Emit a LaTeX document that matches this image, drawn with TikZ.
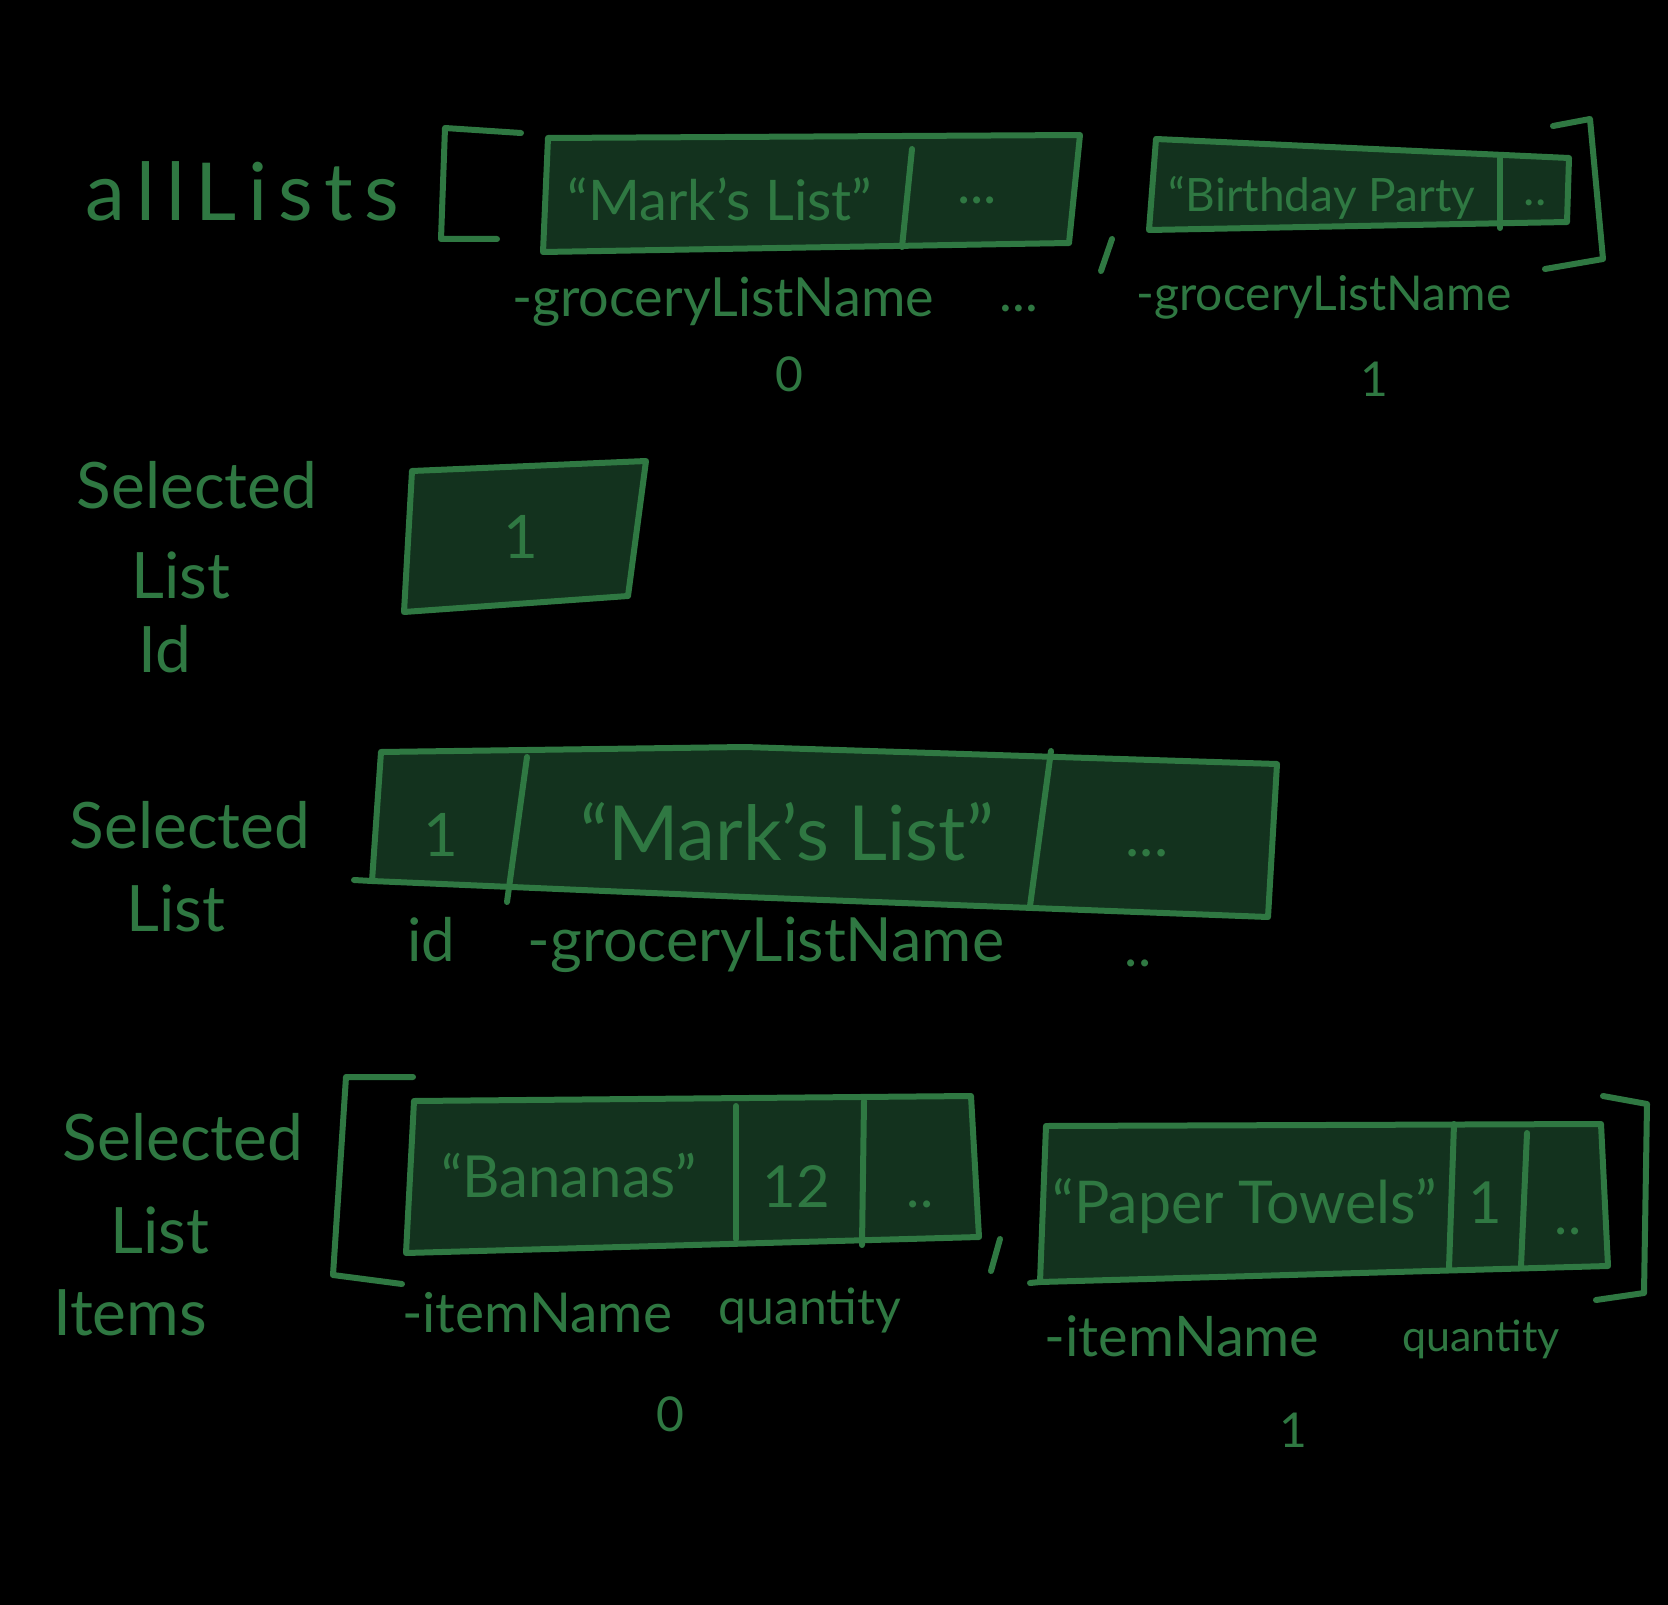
\documentclass[tikz,border=0pt]{standalone}
\usepackage{fontspec}
\setmainfont{Lato}
\definecolor{chalk}{RGB}{47,120,66}
\definecolor{slate}{RGB}{19,50,30}

\begin{document}
\begin{tikzpicture}[x=1pt,y=-1pt,
    pen/.style={draw=chalk, line width=6pt, line cap=round, line join=round},
    cellbox/.style={pen, fill=slate},
    hand/.style={text=chalk, anchor=base, inner sep=0pt, font=\fontsize{#1}{#1}\selectfont},
    hand/.default=56]
	\fill[black](0,0) rectangle (1668,1605);
	\useasboundingbox(0,0) rectangle (1668,1605);
	% allLists
	\node[hand=80] (allLists) at (242,221) {\addfontfeature{LetterSpace=14}allLists};
	\draw[pen](521,133) -- (445,128) -- (441,239) -- (497,239);
	\filldraw[cellbox](548,138) -- (1080,135) -- (1069,243) -- (543,252) -- cycle;
	\draw[pen](912,149) -- (902,247);
	\node[hand=56] (markA) at (720,221) {“Mark’s List”};
	\node[hand=56] (moreA) at (977,204) {...};
	\draw[pen](1112,239) -- (1101,271);
	\filldraw[cellbox](1156,139) -- (1569,158) -- (1567,222) -- (1149,230) -- cycle;
	\draw[pen](1500,158) -- (1500,228);
	\node[hand=46] (birthday) at (1322,212) {“Birthday Party};
	\node[hand=48] (moreB) at (1535,206) {..};
	\draw[pen](1553,126) -- (1590,119) -- (1603,259) -- (1545,269);
	\node[hand=54] (nameA) at (723,317) {-groceryListName};
	\node[hand=54] (dotsA) at (1019,312) {...};
	\node[hand=48] (nameB) at (1324,311) {-groceryListName};
	\node[hand=48] (idxA) at (789,391) {0};
	\node[hand=48] (idxB) at (1374,396) {1};
	% selectedListId
	\node[hand=64] (selA) at (197,508) {Selected};
	\node[hand=64] (listA) at (181,598) {List};
	\node[hand=64] (idA) at (165,672) {Id};
	\filldraw[cellbox](412,471) -- (646,461) -- (628,596) -- (404,612) -- cycle;
	\node[hand=60] (one) at (521,558) {1};
	% selectedList
	\node[hand=64] (selB) at (190,848) {Selected};
	\node[hand=64] (listB) at (176,931) {List};
	\filldraw[cellbox](381,752) -- (745,747) -- (1277,764) -- (1268,917) -- (745,897) -- (372,881) -- cycle;
	\draw[pen](372,881) -- (354,880);
	\draw[pen](527,757) -- (507,902);
	\draw[pen](1051,751) -- (1030,906);
	\node[hand=60] (idB) at (441,856) {1};
	\node[hand=76] (markB) at (787,860) {“Mark’s List”};
	\node[hand=60] (moreC) at (1147,856) {...};
	\node[hand=60] (idLbl) at (431,961) {id};
	\node[hand=61] (nameC) at (766,961) {-groceryListName};
	\node[hand=56] (dotsC) at (1138,966) {..};
	% selectedListItems
	\node[hand=64] (selC) at (183,1160) {Selected};
	\node[hand=64] (listC) at (160,1253) {List};
	\node[hand=64] (items) at (130,1335) {Items};
	\draw[pen](413,1077) -- (346,1077) -- (333,1275) -- (402,1284);
	\filldraw[cellbox](414,1101) -- (971,1096) -- (979,1237) -- (406,1253) -- cycle;
	\draw[pen](736,1106) -- (736,1239);
	\draw[pen](864,1101) -- (862,1245);
	\node[hand=58] (bananas) at (569,1197) {“Bananas”};
	\node[hand=58] (qtyA) at (796,1207) {12};
	\node[hand=56] (moreD) at (920,1207) {..};
	\draw[pen](1000,1239) -- (991,1271);
	\filldraw[cellbox](1046,1126) -- (1601,1124) -- (1608,1266) -- (1040,1282) -- cycle;
	\draw[pen](1040,1282) -- (1030,1283);
	\draw[pen](1454,1124) -- (1449,1268);
	\draw[pen](1527,1133) -- (1521,1266);
	\node[hand=59] (towels) at (1245,1223) {“Paper Towels”};
	\node[hand=58] (qtyB) at (1485,1223) {1};
	\node[hand=56] (moreE) at (1568,1234) {..};
	\draw[pen](1603,1096) -- (1647,1104) -- (1644,1293) -- (1596,1300);
	\node[hand=55] (itemA) at (537,1332) {-itemName};
	\node[hand=50] (quantA) at (810,1324) {quantity};
	\node[hand=56] (itemB) at (1182,1356) {-itemName};
	\node[hand=43] (quantB) at (1481,1351) {quantity};
	\node[hand=48] (idxC) at (670,1431) {0};
	\node[hand=48] (idxD) at (1293,1447) {1};
\end{tikzpicture}
\end{document}
